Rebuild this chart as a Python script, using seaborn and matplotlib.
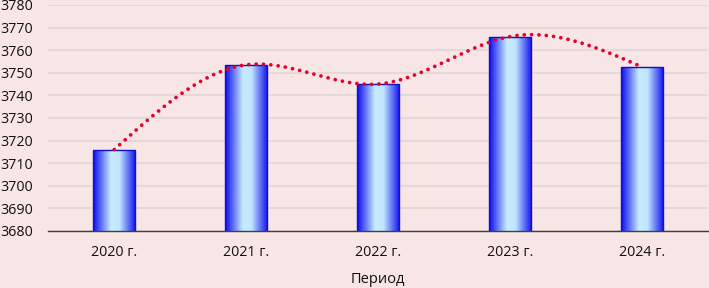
import matplotlib
matplotlib.use("Agg")
import matplotlib.pyplot as plt
import seaborn as sns
import numpy as np
import pandas as pd
from matplotlib.colors import LinearSegmentedColormap

# Data
periods = ["2020 г.", "2021 г.", "2022 г.", "2023 г.", "2024 г."]
values = [3716, 3753.5, 3745, 3766, 3752.5]
y_ticks = list(range(3680, 3781, 10))

df = pd.DataFrame({"period": periods, "value": values})

sns.set_theme(style="white")
plt.rcParams["font.family"] = ["Open Sans", "DejaVu Sans"]

bg = "#F8E5E5"
fig = plt.figure(figsize=(7.09, 2.88), dpi=100, facecolor=bg)
ax = fig.add_axes([0.068, 0.198, 0.931, 0.785], facecolor=bg)

sns.barplot(data=df, x="period", y="value", width=0.32, color="#2020f0",
            edgecolor="#1010c0", linewidth=1.0, ax=ax, zorder=3)

ax.set_ylim(3680, 3780)
ax.set_xlim(-0.5, len(periods) - 0.5)

# horizontal gradient fill inside every bar
cmap = LinearSegmentedColormap.from_list(
    "bar", [(0, "#0a0af0"), (0.42, "#c8ecff"), (0.62, "#c0e6ff"), (1, "#1010ee")])
grad = np.linspace(0, 1, 256).reshape(1, -1)
for bar in ax.patches:
    x0 = bar.get_x()
    w = bar.get_width()
    top = bar.get_height()
    bar.set_facecolor("none")
    im = ax.imshow(grad, cmap=cmap, aspect="auto", zorder=2.5,
                   extent=[x0, x0 + w, 3680, top], interpolation="bicubic")
    im.set_clip_path(bar)

# smoothed dotted line through the bar tops (natural cubic spline)
xs = np.arange(len(values), dtype=float)
ys = np.array(values, dtype=float)
n = len(xs)
A = np.zeros((n, n))
b = np.zeros(n)
A[0, 0] = A[-1, -1] = 1
for i in range(1, n - 1):
    A[i, i - 1], A[i, i], A[i, i + 1] = 1, 4, 1
    b[i] = 6 * (ys[i + 1] - 2 * ys[i] + ys[i - 1])
M = np.linalg.solve(A, b)
cx, cy = [], []
for i in range(n - 1):
    t = np.linspace(0, 1, 60)
    yy = ((1 - t) * ys[i] + t * ys[i + 1]
          + ((1 - t) ** 3 - (1 - t)) * M[i] / 6 + (t ** 3 - t) * M[i + 1] / 6)
    cx.extend(xs[i] + t)
    cy.extend(yy)
ax.plot(cx, cy, color="#E6002E", linewidth=2.7, linestyle=(0, (0.01, 1.95)),
        dash_capstyle="round", zorder=4)

ax.set_yticks(y_ticks)
ax.yaxis.grid(True, color="#E2D6D6", linewidth=1.2)
ax.set_axisbelow(True)
for s in ["left", "right", "top"]:
    ax.spines[s].set_visible(False)
ax.spines["bottom"].set_color("#404040")
ax.spines["bottom"].set_linewidth(1.0)
ax.spines["bottom"].set_zorder(5)
ax.tick_params(axis="both", length=0, labelsize=10.3, colors="#111111")
ax.tick_params(axis="y", pad=11)
ax.tick_params(axis="x", pad=10)
ax.set_ylabel("")
ax.set_xlabel("Период", fontsize=10.5, color="#111111", labelpad=9)

fig.savefig("out.png", dpi=100, facecolor=bg)
